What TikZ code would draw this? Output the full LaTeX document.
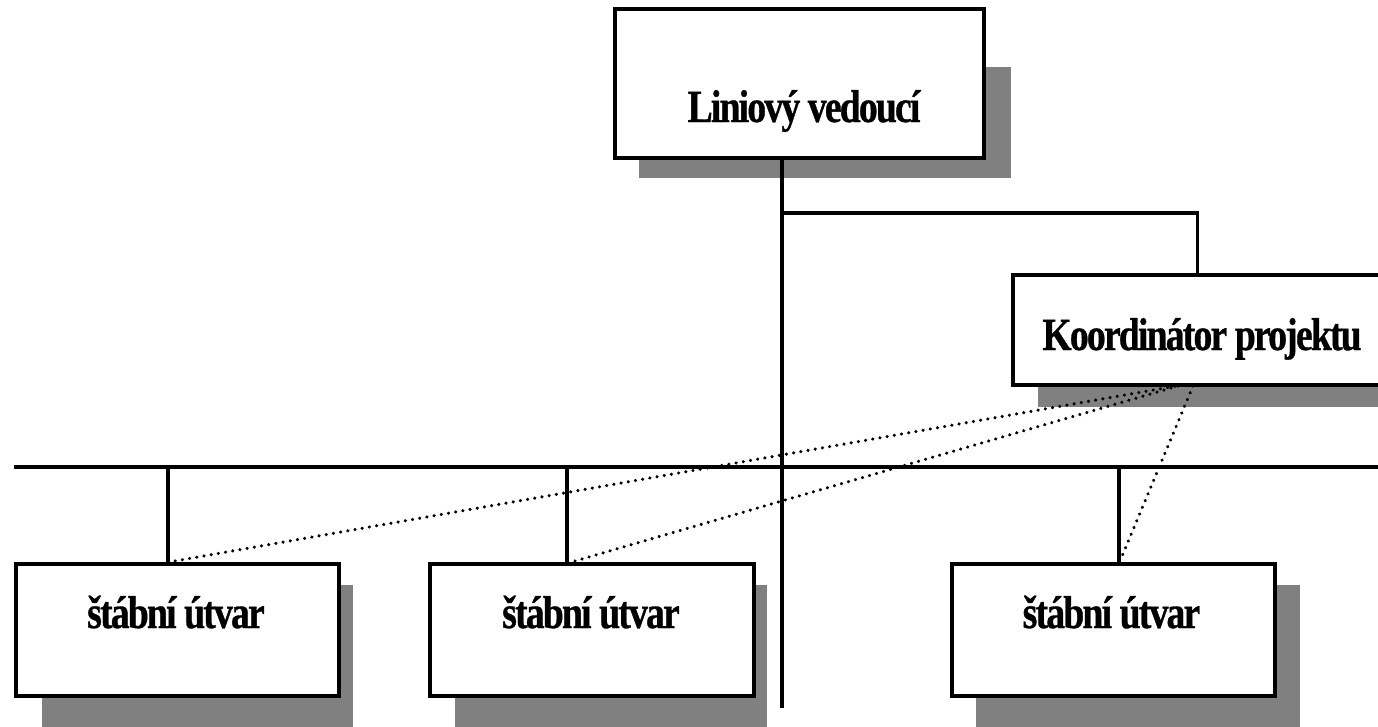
\documentclass[tikz,border=0pt]{standalone}
\usepackage{fontspec}
\newfontfamily\orgfont[FakeStretch=0.82,FakeBold=0.7,LetterSpace=-4]{Liberation Serif}
\begin{document}
\begin{tikzpicture}[x=1pt,y=-1pt,
  orgbox/.style={draw=black, fill=white, line width=4pt, inner sep=0pt, anchor=north west},
  orgtext/.style={font=\orgfont\bfseries\fontsize{46}{52}\selectfont, anchor=base, inner sep=0pt},
  conn/.style={draw=black, line width=3.4pt},
  dotconn/.style={draw=black, line width=3.4pt, line cap=round, dash pattern=on 0.1pt off 7.2pt}
]
\definecolor{shadowgray}{RGB}{128,128,128}
\useasboundingbox (0,0) rectangle (1378,726);
\clip (0,0) rectangle (1378,726);
% shadows
\fill[shadowgray] (639,67) rectangle (1011,178);
\fill[shadowgray] (1038,300) rectangle (1400,407);
\fill[shadowgray] (42,585) rectangle (353,730);
\fill[shadowgray] (455,585) rectangle (767,730);
\fill[shadowgray] (976,585) rectangle (1300,730);
% boxes
\node[orgbox, minimum width=369pt, minimum height=149pt] (L) at (613,7) {};
\node[orgbox, minimum width=369pt, minimum height=110pt] (K) at (1011,273) {};
\node[orgbox, minimum width=323pt, minimum height=132pt] (S1) at (14,562) {};
\node[orgbox, minimum width=324pt, minimum height=132pt] (S2) at (428,562) {};
\node[orgbox, minimum width=323pt, minimum height=132pt] (S3) at (950,562) {};
% texts
\node[orgtext] (Lt) at (804,122) {Liniový vedoucí};
\node[orgtext] (Kt) at (1202,350) {Koordinátor projektu};
\node[orgtext] (S1t) at (176,628) {štábní útvar};
\node[orgtext] (S2t) at (591,628) {štábní útvar};
\node[orgtext] (S3t) at (1111.5,628) {štábní útvar};
% connectors
\coordinate (mainend) at (782,708);
\coordinate (branch) at (782,213);
\coordinate (busL) at (14,467);
\coordinate (busR) at (1380,467);
\coordinate (b1) at (168,467);
\coordinate (b2) at (567,467);
\coordinate (b3) at (1119,467);
\draw[conn] (L.south -| mainend) -- (mainend);
\draw[conn] (branch) -- (branch -| K.north) -- (K.north);
\draw[conn] (busL) -- (busR);
\draw[conn] (b1) -- (b1 |- S1.north);
\draw[conn] (b2) -- (b2 |- S2.north);
\draw[conn] (b3) -- (b3 |- S3.north);
% dotted links
\coordinate (k1) at (1182,385);
\coordinate (k2) at (1178,386);
\coordinate (k3) at (1193,386);
\coordinate (e1) at (175,561);
\coordinate (e2) at (575,561);
\coordinate (e3) at (1120,561);
\draw[dotconn] (k1) -- (e1);
\draw[dotconn] (k2) -- (e2);
\draw[dotconn] (k3) -- (e3);
\end{tikzpicture}
\end{document}
